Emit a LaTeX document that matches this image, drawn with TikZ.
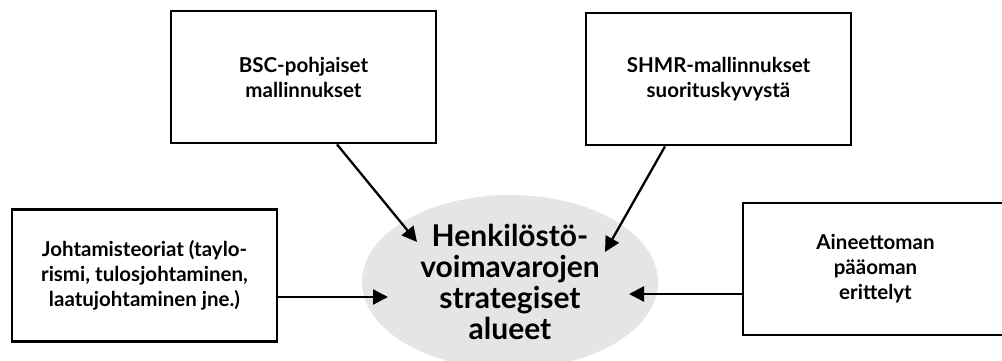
\documentclass[tikz,border=0pt]{standalone}
\usepackage{fontspec}
\setmainfont{Lato}
\usetikzlibrary{arrows.meta,shapes.geometric}

\begin{document}
\begin{tikzpicture}[x=1pt,y=-1pt,
  box/.style={draw=black,line width=2.8pt,rectangle,minimum width=265pt,minimum height=132pt,
    align=center,font=\bfseries\fontsize{20.5}{25}\selectfont},
  pil/.style={line width=2.3pt,-{Triangle[length=15pt,width=15pt]}}]
\useasboundingbox (0,0) rectangle (1002,361);
% keskus
\node[ellipse,fill=black!10,minimum width=296pt,minimum height=174pt,inner sep=0pt,align=center,
  font=\bfseries\fontsize{30}{31}\selectfont] (alueet) at (510,282)
  {Henkilöstö-\\voimavarojen\\strategiset\\alueet};
% laatikot
\node[box] (bsc) at (303.5,77) {BSC-pohjaiset\\mallinnukset};
\node[box] (shmr) at (718.5,79) {SHMR-mallinnukset\\suorituskyvystä};
\node[box] (johto) at (144.5,275.5) {Johtamisteoriat (taylo-\\rismi, tulosjohtaminen,\\laatujohtaminen jne.)};
\node[box] (aine) at (875.5,269) {Aineettoman\\pääoman\\erittelyt};
% nuolet
\coordinate (k1) at (417,242);
\coordinate (k2) at (605,252);
\coordinate (k3) at (388,297);
\coordinate (k4) at (629,294);
\draw[pil] (bsc.south) ++(33.5,0) -- (k1);
\draw[pil] (shmr.south) ++(-53.5,0) -- (k2);
\draw[pil] (johto.east |- k3) -- (k3);
\draw[pil] (aine.west |- k4) -- (k4);
\end{tikzpicture}
\end{document}
